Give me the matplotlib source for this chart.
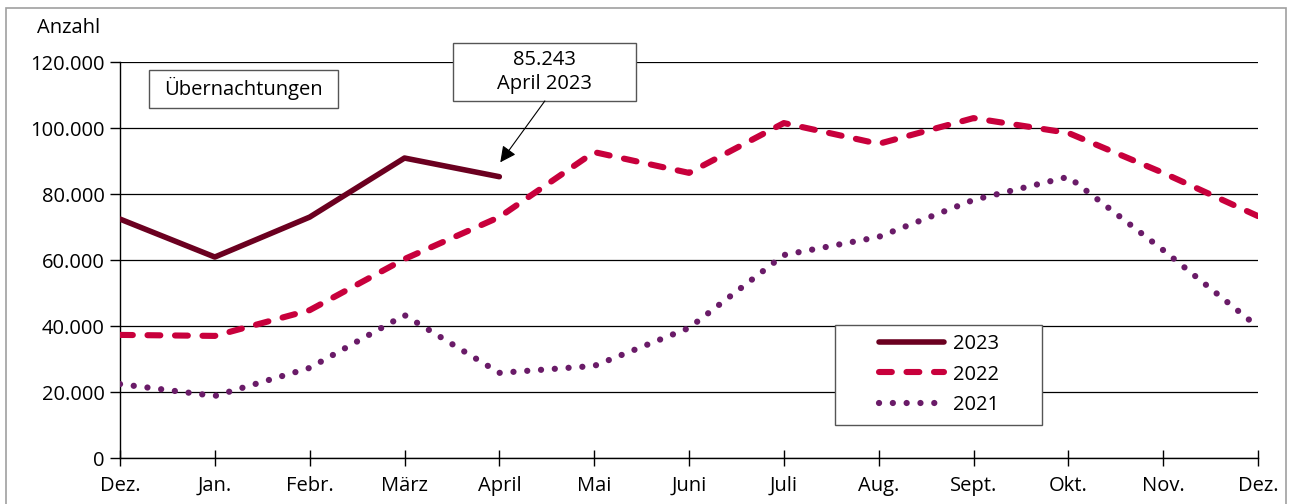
import matplotlib
matplotlib.use("Agg")
import matplotlib.pyplot as plt
import matplotlib.patches as mpatches
from matplotlib.ticker import FuncFormatter

MONTHS = ["Dez.", "Jan.", "Febr.", "März", "April", "Mai", "Juni",
          "Juli", "Aug.", "Sept.", "Okt.", "Nov.", "Dez."]
V2023 = [72400, 60900, 73000, 90900, 85243]
V2022 = [37300, 37000, 44800, 60300, 73000, 92700, 86400, 101500,
         95200, 103000, 98500, 86400, 73300]
V2021 = [22400, 18800, 27300, 43300, 25800, 27900, 39400, 61500,
         67000, 78200, 85200, 63000, 39700]
YTICKS = [0, 20000, 40000, 60000, 80000, 100000, 120000]

C2023 = "#6b0020"
C2022 = "#c8003c"
C2021 = "#6a1b68"

plt.rcParams["font.family"] = ["Open Sans", "DejaVu Sans"]
FS = 14.5

fig = plt.figure(figsize=(12.92, 5.04), dpi=100)
ax = fig.add_axes([120 / 1292, 1 - 458 / 504, (1258 - 120) / 1292, (458 - 62) / 504])

# outer frame
fig.patches.append(mpatches.Rectangle((6 / 1292, -0.02), (1286 - 6) / 1292, 1 - 8 / 504 + 0.02,
                                      transform=fig.transFigure, fill=False,
                                      edgecolor="#a0a0a0", linewidth=1.2))

x = list(range(len(MONTHS)))
ax.plot(x[:len(V2023)], V2023, color=C2023, lw=4.0, solid_capstyle="round",
        solid_joinstyle="round", label="2023", zorder=4)
ax.plot(x, V2022, color=C2022, lw=4.4, linestyle=(0, (2.1, 2.4)),
        dash_capstyle="round", label="2022", zorder=3)
ax.plot(x, V2021, color=C2021, lw=4.5, linestyle=(0, (0.01, 2.2)),
        dash_capstyle="round", label="2021", zorder=3)

ax.set_xlim(0, len(MONTHS) - 1)
ax.set_ylim(0, 120000)
ax.set_xticks(x)
ax.set_xticklabels(MONTHS, fontsize=FS)
ax.set_yticks(YTICKS)
ax.yaxis.set_major_formatter(FuncFormatter(lambda v, p: f"{int(v):,}".replace(",", ".")))
ax.tick_params(axis="y", labelsize=FS, length=7, width=1, direction="out", pad=4)
ax.tick_params(axis="x", length=12, width=1, direction="inout", pad=7)
ax.grid(axis="y", color="black", linewidth=0.9)
ax.set_axisbelow(True)
for s in ["top", "right"]:
    ax.spines[s].set_visible(False)
ax.spines["left"].set_linewidth(1.0)
ax.spines["bottom"].set_linewidth(1.0)

fig.text(37 / 1292, 1 - 28 / 504, "Anzahl", fontsize=FS, va="center", ha="left")

# "Übernachtungen" box
ax.add_patch(mpatches.Rectangle((0.306, 106100), 1.994, 11500, facecolor="white",
                                edgecolor="#555555", lw=1, zorder=5))
ax.text(1.303, 111850, "Übernachtungen", fontsize=FS, ha="center", va="center", zorder=6)

# annotation box for April 2023
ax.add_patch(mpatches.Rectangle((3.51, 108200), 1.93, 17600, facecolor="white",
                                edgecolor="#555555", lw=1, zorder=5, clip_on=False))
ax.text(4.48, 117000, "85.243\nApril 2023", fontsize=FS, ha="center", va="center",
        linespacing=1.25, zorder=6)
ax.annotate("", xy=(4.01, 89600), xytext=(4.48, 108200),
            arrowprops=dict(arrowstyle="-|>", color="black", lw=0.8, mutation_scale=24,
                            shrinkA=0, shrinkB=0), zorder=6)

# legend with a manually drawn frame
ax.add_patch(mpatches.Rectangle((7.54, 10100), 2.18, 30300, facecolor="white",
                                edgecolor="#555555", lw=1, zorder=5))
leg = ax.legend(loc="upper left", bbox_to_anchor=(0.667, 0.312),
                fontsize=FS, handlelength=3.25, handletextpad=0.4, labelspacing=0.5,
                borderpad=0, frameon=False, borderaxespad=0)
leg.set_zorder(7)

fig.savefig("out.png", dpi=100, facecolor="white")
